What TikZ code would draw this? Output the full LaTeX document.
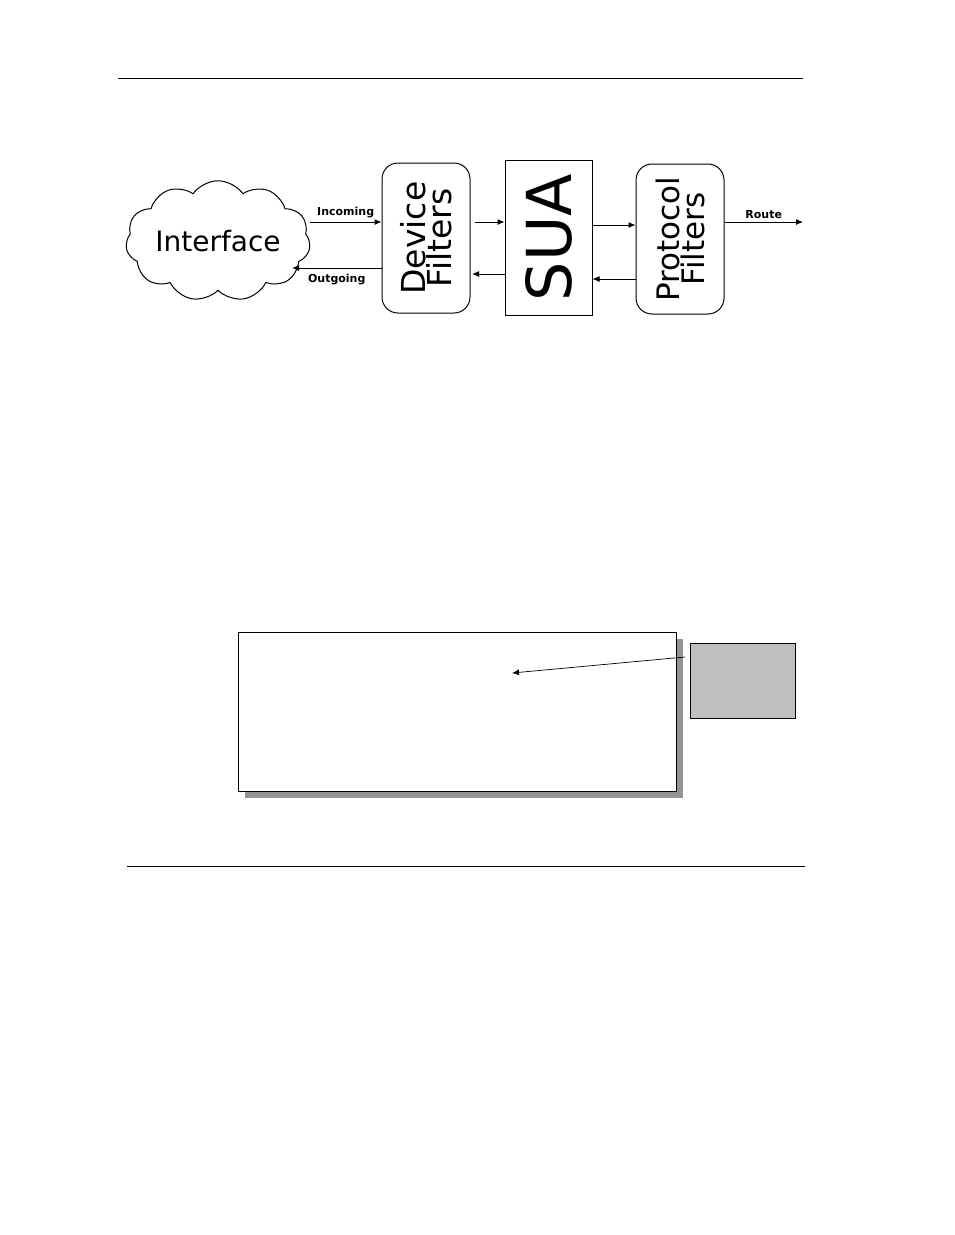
\documentclass[tikz,border=0pt]{standalone}
\usepackage{fontspec}
\setmainfont{DejaVu Sans}
\usetikzlibrary{shapes.symbols}
\usetikzlibrary{arrows.meta}

\newcommand{\fsz}[1]{\fontsize{#1}{#1}\selectfont}

\begin{document}
\begin{tikzpicture}[x=1pt,y=-1pt,>/.tip={Latex[length=7pt,width=6pt]},
	filt/.style={draw,line width=1pt,rounded corners=16pt,minimum width=88pt,minimum height=150pt,inner sep=0pt},
	lbl/.style={font=\bfseries\fsz{11}}]
	\useasboundingbox (0,0) rectangle (954,1235);
	\draw (118,78) -- (803,78);
	\draw (127,866) -- (805,866);
	\node (iface) [cloud,draw,line width=1pt,cloud puffs=11,cloud puff arc=110,aspect=1.8,minimum width=180pt,minimum height=105pt,inner sep=0pt] at (218,241) {\fsz{28}Interface};
	\node (devf) [filt] at (426,238) {};
	\node [rotate=90,align=center] at (devf.center) {\fsz{33}Device\\\fsz{33}Filters};
	\node (sua) [draw,line width=1pt,minimum width=87pt,minimum height=155pt] at (548.5,237.5) {};
	\node [rotate=90] at (sua.center) {\fsz{62}SUA};
	\node (prot) [filt] at (680,239) {};
	\node [rotate=90,align=center] at (prot.center) {\fsz{31}Protocol\\\fsz{31}Filters};
	\coordinate (route) at (803,222);
	\draw[->,line width=1pt] (iface.east |- 0,222) -- node[lbl,above] {Incoming} (devf.west |- 0,222);
	\draw[->,line width=1pt] (devf.west |- 0,268) -- node[lbl,below,yshift=-2pt] {Outgoing} (292,268);
	\draw[->,line width=1pt] (475,222) -- (sua.west |- 0,222);
	\draw[->,line width=1pt] (sua.west |- 0,274) -- (472,274);
	\draw[->,line width=1pt] (sua.east |- 0,225) -- (prot.west |- 0,225);
	\draw[->,line width=1pt] (prot.west |- 0,279) -- (sua.east |- 0,279);
	\draw[->,line width=1pt] (prot.east |- 0,222) -- node[lbl,above] {Route} (route);
	% lower frame
	\fill[black!42] (245,639) rectangle (683,798);
	\node (frame) [draw,fill=white,line width=0.8pt,minimum width=438pt,minimum height=159pt] at (457,711.5) {};
	\node (note) [draw,fill=black!25,line width=0.8pt,minimum width=105pt,minimum height=75pt] at (742.5,680.5) {};
	\coordinate (tip) at (512,673);
	\draw[->,line width=0.7pt] (685,657) -- (tip);
\end{tikzpicture}
\end{document}
